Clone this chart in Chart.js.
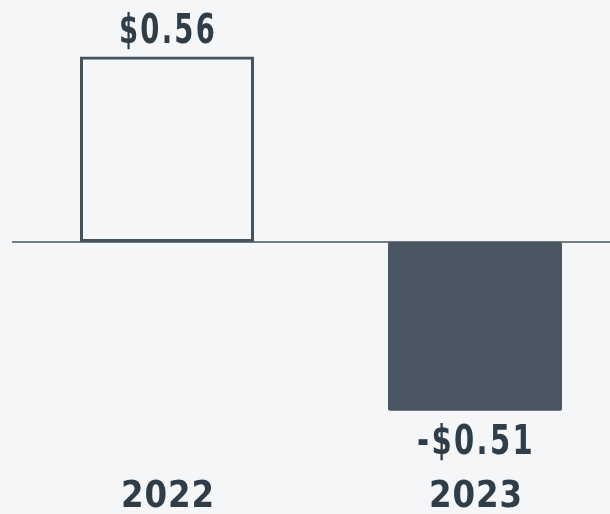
<!DOCTYPE html>
<html>
<head>
<meta charset="utf-8">
<script src="https://cdn.jsdelivr.net/npm/chart.js@4.4.0/dist/chart.umd.min.js"></script>
<style>
  html, body { margin: 0; padding: 0; background: #f5f6f8; overflow: hidden; }
  #wrap { width: 642px; height: 514px; }
</style>
</head>
<body>
<div id="wrap"><canvas id="chart" width="642" height="514"></canvas></div>
<script>
// datos
const years = ['2022', '2023'];
const values = [0.56, -0.51];
const valueLabels = ['$0.56', '-$0.51'];

const slate = '#45535f';
const textColor = '#2f3d49';

// texto comprimido a un ancho dado
function drawFitted(ctx, text, cx, baseline, font, spacing, targetW) {
    ctx.font = font;
    ctx.letterSpacing = spacing;
    const w = ctx.measureText(text).width;
    const sx = targetW / w;
    ctx.save();
    ctx.translate(cx, baseline);
    ctx.scale(sx, 1);
    ctx.textAlign = 'center';
    ctx.textBaseline = 'alphabetic';
    ctx.fillText(text, 0, 0);
    ctx.restore();
}

// linea del cero + etiquetas
const extras = {
    id: 'extras',
    beforeDatasetsDraw(chart) {
        const ctx = chart.ctx;
        const y0 = chart.scales.y.getPixelForValue(0);
        ctx.save();
        ctx.strokeStyle = slate;
        ctx.lineWidth = 1.5;
        ctx.beginPath();
        ctx.moveTo(12, y0);
        ctx.lineTo(chart.width, y0);
        ctx.stroke();
        ctx.restore();
    },
    afterDatasetsDraw(chart) {
        const ctx = chart.ctx;
        const meta = chart.getDatasetMeta(0);
        ctx.save();
        ctx.fillStyle = textColor;
        meta.data.forEach((bar, i) => {
            const valFont = 'bold 41px "DejaVu Sans Condensed", "DejaVu Sans", sans-serif';
            if (values[i] >= 0) {
                drawFitted(ctx, valueLabels[i], bar.x + 1, bar.y - 14, valFont, '3px', 98);
            } else {
                drawFitted(ctx, valueLabels[i], bar.x + 1, bar.y + 43, valFont, '3px', 118);
            }
            drawFitted(ctx, years[i], bar.x + 1, 507, 'bold 37px "DejaVu Sans", sans-serif', '1px', 94);
        });
        ctx.restore();
    }
};

new Chart(document.getElementById('chart'), {
    type: 'bar',
    data: {
        labels: years,
        datasets: [{
            data: values,
            backgroundColor: ['rgba(0,0,0,0)', '#4a5661'],
            borderColor: [slate, '#4a5661'],
            borderWidth: [3, 0],
            borderSkipped: false,
            borderRadius: [0, 2],
            barPercentage: 0.565,
            categoryPercentage: 1
        }]
    },
    options: {
        responsive: false,
        animation: false,
        layout: { padding: { left: 13, right: 13, top: 0, bottom: 0 } },
        plugins: { legend: { display: false }, tooltip: { enabled: false } },
        scales: {
            x: { display: false },
            y: { display: false, min: -0.822, max: 0.731 }
        }
    },
    plugins: [extras]
});
</script>
</body>
</html>
